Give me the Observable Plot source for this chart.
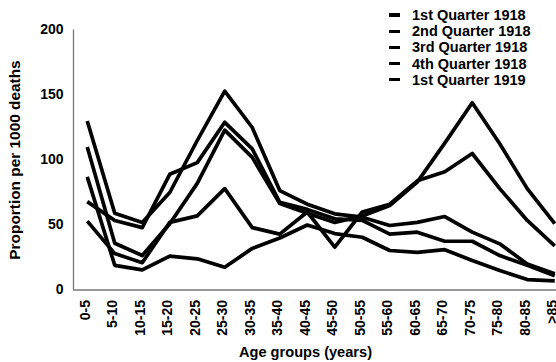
<!DOCTYPE html>
<html>
<head>
<meta charset="utf-8">
<script src="https://cdn.jsdelivr.net/npm/d3@7"></script>
<script src="https://cdn.jsdelivr.net/npm/@observablehq/plot@0.6"></script>
<style>
  html, body { margin: 0; padding: 0; background: #fff; }
  #wrap { position: relative; width: 556px; height: 362px; overflow: hidden; font-family: "Liberation Sans", Arial, sans-serif; }
  #legend { position: absolute; left: 389px; top: 7px; font-weight: bold; font-size: 14.5px; color: #000; }
  #legend .row { height: 16.2px; line-height: 16.2px; white-space: nowrap; display: flex; align-items: center; }
  #legend .dash { display: inline-block; width: 11px; height: 3.3px; background: #000; margin-right: 12px; }
</style>
</head>
<body>
<div id="wrap"><div id="chart"></div><div id="legend"></div></div>
<script>
const ages = ["0-5","5-10","10-15","15-20","20-25","25-30","30-35","35-40","40-45","45-50","50-55","55-60","60-65","65-70","70-75","75-80","80-85",">85"];
const seriesNames = ["1st Quarter 1918","2nd Quarter 1918","3rd Quarter 1918","4th Quarter 1918","1st Quarter 1919"];
const q1_1918 = [110, 36, 26.5, 51, 82, 123, 102, 66.5, 59, 52, 57, 65, 83, 113, 144, 112.5, 78, 51];
const q2_1918 = [53, 28, 21, 52, 57, 78, 48, 43, 60, 33, 60, 66, 84, 91, 105, 78, 53.5, 34];
const q3_1918 = [130, 59, 52, 75, 115, 153, 125, 76.5, 66, 58.6, 56, 49.6, 52, 56.5, 44.5, 35.5, 20, 12.5];
const q4_1918 = [68, 53.5, 48, 89, 98, 129, 108.6, 67.5, 62, 54.8, 53.5, 43, 44.5, 37.5, 37.5, 26.5, 19, 11];
const q1_1919 = [87, 19, 15.5, 26, 24, 17.5, 32, 40, 50, 43.4, 40.6, 30.4, 29, 31, 22.7, 15, 8, 7];
const yTicks = [0, 50, 100, 150, 200];
const xTitle = "Age groups (years)";
const yTitle = "Proportion per 1000 deaths";

const seriesValues = [q1_1918, q2_1918, q3_1918, q4_1918, q1_1919];
const data = seriesNames.flatMap((name, k) =>
  seriesValues[k].map((v, i) => ({series: name, i, age: ages[i], value: v})));

const chart = Plot.plot({
  width: 556,
  height: 362,
  marginLeft: 73,
  marginRight: 19,
  marginTop: 29.5,
  marginBottom: 72.5,
  style: {fontFamily: "'Liberation Sans', Arial, sans-serif", fontSize: "14px", fontWeight: "bold", color: "#000", background: "white"},
  x: {type: "linear", domain: [-0.5, 17.5], range: [73, 568]},
  y: {domain: [0, 200]},
  marks: [
    Plot.axisY({ticks: yTicks, tickSize: 0, tickPadding: 10, label: null}),
    Plot.axisY({ticks: [], tickSize: 0, label: yTitle, labelAnchor: "center", labelOffset: 64, labelArrow: "none", fontSize: 15.4}),
    Plot.axisX({ticks: d3.range(ages.length), tickFormat: (i) => ages[i], tickRotate: -90, tickSize: 0, tickPadding: 10, dx: -2, label: null}),
    Plot.axisX({ticks: [], tickSize: 0, label: xTitle, labelAnchor: "center", labelOffset: 67, labelArrow: "none", fontSize: 14.6}),
    Plot.ruleX([-0.5], {y1: 0, y2: 200, stroke: "#777", strokeWidth: 1.3}),
    Plot.ruleY([0], {x1: -0.5, x2: 17.5, stroke: "#777", strokeWidth: 1.3}),
    Plot.line(data, {x: "i", y: "value", z: "series", stroke: "#000", strokeWidth: 3.7, strokeLinecap: "butt", strokeLinejoin: "round"})
  ]
});
document.getElementById("chart").appendChild(chart);

const legend = document.getElementById("legend");
for (const name of seriesNames) {
  const row = document.createElement("div");
  row.className = "row";
  const dash = document.createElement("span");
  dash.className = "dash";
  const label = document.createElement("span");
  label.textContent = name;
  row.appendChild(dash);
  row.appendChild(label);
  legend.appendChild(row);
}
</script>
</body>
</html>
